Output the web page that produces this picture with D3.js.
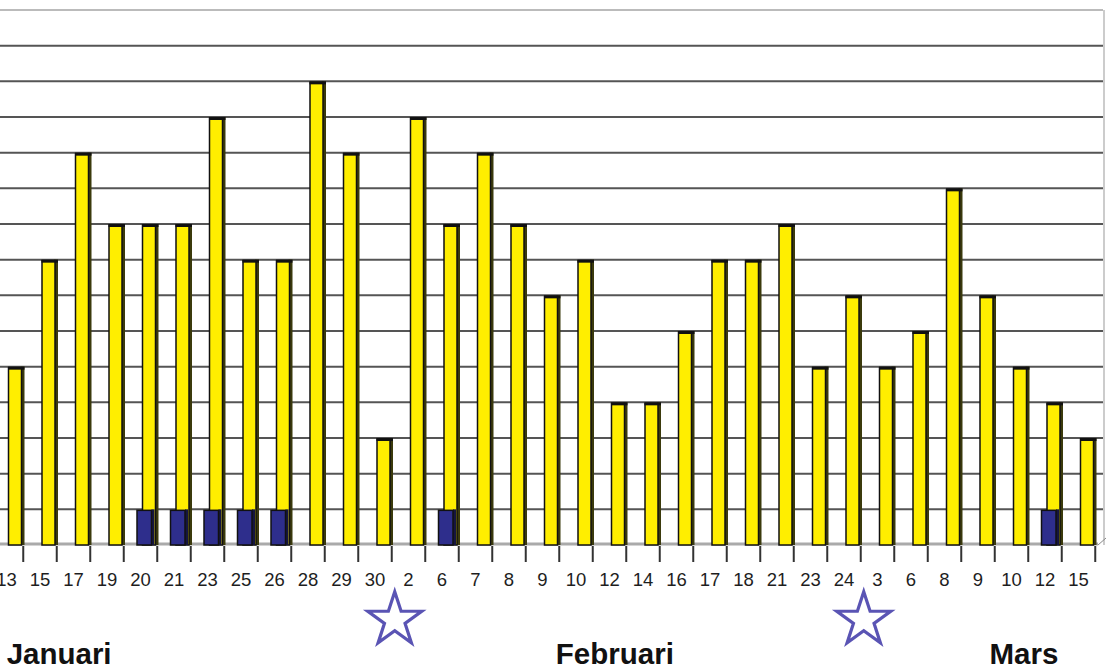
<!DOCTYPE html>
<html>
<head>
<meta charset="utf-8">
<script src="https://cdn.jsdelivr.net/npm/d3@7"></script>
<style>
  body { margin: 0; background: #fff; }
  svg { display: block; font-family: "Liberation Sans", Arial, sans-serif; }
</style>
</head>
<body>
<div id="chart"></div>
<script>
// data
const dayLabels = ["13", "15", "17", "19", "20", "21", "23", "25", "26", "28", "29", "30",
  "2", "6", "7", "8", "9", "10", "12", "14", "16", "17", "18", "21", "23", "24",
  "3", "6", "8", "9", "10", "12", "15"];
const yellowValues = [5, 8, 11, 9, 9, 9, 12, 8, 8, 13, 11, 3,
  12, 9, 11, 9, 7, 8, 4, 4, 6, 8, 8, 9, 5, 7,
  5, 6, 10, 7, 5, 4, 3];
const blueValues = [0, 0, 0, 0, 1, 1, 1, 1, 1, 0, 0, 0,
  0, 1, 0, 0, 0, 0, 0, 0, 0, 0, 0, 0, 0, 0,
  0, 0, 0, 0, 0, 1, 0];
const months = ["Januari", "Februari", "Mars"];
const yTicks = d3.range(0, 16);

const width = 1106;
const height = 670;

const svg = d3.select("#chart").append("svg")
  .attr("width", width)
  .attr("height", height);

// scales
const xScale = d3.scaleBand()
  .domain(d3.range(dayLabels.length))
  .range([-10.25, 1095.25])
  .padding(0);
const yScale = d3.scaleLinear().domain([0, 15]).range([545, 10]);

// horizontal gridlines
svg.selectAll(".grid")
  .data(yTicks.slice(1))
  .join("line")
  .attr("x1", 0)
  .attr("x2", 1103)
  .attr("y1", (d) => yScale(d))
  .attr("y2", (d) => yScale(d))
  .attr("stroke", (d) => (d === 15 ? "#bbb" : "#555"))
  .attr("stroke-width", 2);

// right wall edge
svg.append("line")
  .attr("x1", 1104).attr("x2", 1104)
  .attr("y1", yScale(15)).attr("y2", yScale(0))
  .attr("stroke", "#ccc").attr("stroke-width", 2);

// floor
svg.append("line")
  .attr("x1", 0).attr("x2", 1098)
  .attr("y1", 544).attr("y2", 544)
  .attr("stroke", "#aaa").attr("stroke-width", 3);
svg.append("line")
  .attr("x1", 1098).attr("x2", 1106)
  .attr("y1", 545).attr("y2", 538)
  .attr("stroke", "#888").attr("stroke-width", 1);

// yellow bars (behind)
const yellow = svg.append("g");
yellow.selectAll(".side")
  .data(yellowValues)
  .join("rect")
  .attr("x", (d, i) => xScale(i) + xScale.bandwidth() / 2 + 14)
  .attr("y", (d) => yScale(d))
  .attr("width", 4)
  .attr("height", (d) => yScale(0) - yScale(d))
  .attr("fill", "#3b3a0c");
yellow.selectAll(".front")
  .data(yellowValues)
  .join("rect")
  .attr("x", (d, i) => xScale(i) + xScale.bandwidth() / 2 + 2)
  .attr("y", (d) => yScale(d) + 1)
  .attr("width", 13)
  .attr("height", (d) => yScale(0) - yScale(d) - 1)
  .attr("fill", "#ffee00")
  .attr("stroke", "#111")
  .attr("stroke-width", 1.5);
yellow.selectAll(".top")
  .data(yellowValues)
  .join("rect")
  .attr("x", (d, i) => xScale(i) + xScale.bandwidth() / 2 + 1.5)
  .attr("y", (d) => yScale(d))
  .attr("width", 16.5)
  .attr("height", 3)
  .attr("fill", "#111");

// blue bars (front)
const blue = svg.append("g");
const blueData = blueValues.map((v, i) => ({ i, v })).filter((d) => d.v > 0);
blue.selectAll(".side")
  .data(blueData)
  .join("rect")
  .attr("x", (d) => xScale(d.i) + xScale.bandwidth() / 2 + 11)
  .attr("y", (d) => yScale(d.v))
  .attr("width", 3)
  .attr("height", (d) => yScale(0) - yScale(d.v))
  .attr("fill", "#15153f");
blue.selectAll(".front")
  .data(blueData)
  .join("rect")
  .attr("x", (d) => xScale(d.i) + xScale.bandwidth() / 2 - 3.5)
  .attr("y", (d) => yScale(d.v) + 1)
  .attr("width", 14.5)
  .attr("height", (d) => yScale(0) - yScale(d.v) - 1)
  .attr("fill", "#2e2e8c")
  .attr("stroke", "#111")
  .attr("stroke-width", 1.5);

// x-axis ticks and labels
const xAxis = d3.axisBottom(xScale)
  .tickFormat((i) => dayLabels[i])
  .tickSize(0)
  .tickPadding(26);
svg.append("g")
  .attr("transform", "translate(0, 547)")
  .style("font-size", "18.5px")
  .call(xAxis)
  .call((g) => g.select(".domain").remove())
  .selectAll(".tick text")
  .attr("fill", "#1e1e1e")
  .attr("font-family", "Liberation Sans, Arial, sans-serif");

svg.selectAll(".xtick")
  .data(d3.range(dayLabels.length + 1).slice(1))
  .join("line")
  .attr("x1", (i) => xScale.range()[0] + i * xScale.step())
  .attr("x2", (i) => xScale.range()[0] + i * xScale.step())
  .attr("y1", 546)
  .attr("y2", 562)
  .attr("stroke", "#333")
  .attr("stroke-width", 2);

// stars at the month changes
const star = d3.symbol().type(d3.symbolStar).size(900);
const starAt = [12, 26];
svg.selectAll(".star")
  .data(starAt)
  .join("path")
  .attr("d", star)
  .attr("transform", (i) => `translate(${xScale(i) + 3}, 620)`)
  .attr("fill", "none")
  .attr("stroke", "#5a54b4")
  .attr("stroke-width", 3.2)
  .attr("stroke-linejoin", "miter");

// month names
const monthAt = [2.07, 18.66, 30.87];
svg.selectAll(".month")
  .data(months)
  .join("text")
  .attr("x", (d, i) => xScale.range()[0] + monthAt[i] * xScale.step())
  .attr("y", 664)
  .attr("text-anchor", "middle")
  .style("font-size", "29.5px")
  .style("font-weight", "bold")
  .style("fill", "#111")
  .text((d) => d);
</script>
</body>
</html>
